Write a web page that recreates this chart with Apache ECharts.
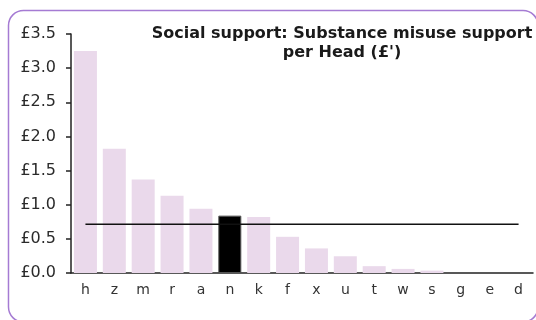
<!DOCTYPE html>
<html>
<head>
<meta charset="utf-8">
<script src="https://cdn.jsdelivr.net/npm/echarts@6/dist/echarts.min.js"></script>
<style>
  html, body { margin: 0; padding: 0; background: #ffffff; }
  #chart { width: 536px; height: 320px; }
</style>
</head>
<body>
<div id="chart"></div>
<script>
// Substance misuse support spend per head, by area
const categories = ['h', 'z', 'm', 'r', 'a', 'n', 'k', 'f', 'x', 'u', 't', 'w', 's', 'g', 'e', 'd'];
const spendPerHead = [3.25, 1.82, 1.37, 1.13, 0.94, 0.84, 0.82, 0.53, 0.36, 0.245, 0.10, 0.06, 0.035, 0, 0, 0];
const highlighted = 'n';
const averageValue = 0.715;
const yTicks = [0, 0.5, 1.0, 1.5, 2.0, 2.5, 3.0, 3.5];

const chart = echarts.init(document.getElementById('chart'), null, { renderer: 'canvas' });

const barData = categories.map((c, i) => ({
  value: spendPerHead[i],
  itemStyle: c === highlighted
    ? { color: '#000000', borderColor: '#555555', borderWidth: 1 }
    : { color: '#ead9eb' }
}));

chart.setOption({
  animation: false,
  backgroundColor: '#ffffff',
  graphic: [{
    type: 'rect',
    shape: { x: 8.5, y: 10.5, width: 529.5, height: 311.5, r: 15 },
    style: { fill: 'none', stroke: '#a57bd3', lineWidth: 1.5 },
    z: 100
  }],
  title: {
    text: 'Social support: Substance misuse support\nper Head (£\')',
    left: 337,
    top: 19,
    textAlign: 'center',
    textStyle: {
      fontFamily: 'DejaVu Sans',
      fontWeight: 'bold',
      fontSize: 16,
      lineHeight: 19,
      color: '#1a1a1a'
    }
  },
  grid: { left: 71, top: 34, width: 462, height: 239, containLabel: false },
  xAxis: {
    type: 'category',
    data: categories,
    axisLine: { lineStyle: { color: '#222222', width: 1.5 } },
    axisTick: { show: false },
    axisLabel: {
      margin: 10,
      color: '#333333',
      fontFamily: 'DejaVu Sans',
      fontSize: 14
    }
  },
  yAxis: {
    type: 'value',
    min: 0,
    max: 3.5,
    interval: 0.5,
    splitLine: { show: false },
    axisLine: { show: true, lineStyle: { color: '#222222', width: 1.5 } },
    axisTick: { show: true, length: 5, lineStyle: { color: '#222222', width: 1.5 } },
    axisLabel: {
      margin: 15,
      color: '#2a2a2a',
      fontFamily: 'DejaVu Sans',
      fontSize: 16,
      formatter: v => '£' + v.toFixed(1)
    }
  },
  series: [
    {
      type: 'bar',
      data: barData,
      barWidth: 23,
      silent: true
    },
    {
      type: 'line',
      data: categories.map(() => averageValue),
      symbol: 'none',
      lineStyle: { color: '#111111', width: 1.5 },
      silent: true,
      z: 5
    }
  ]
});
</script>
</body>
</html>
